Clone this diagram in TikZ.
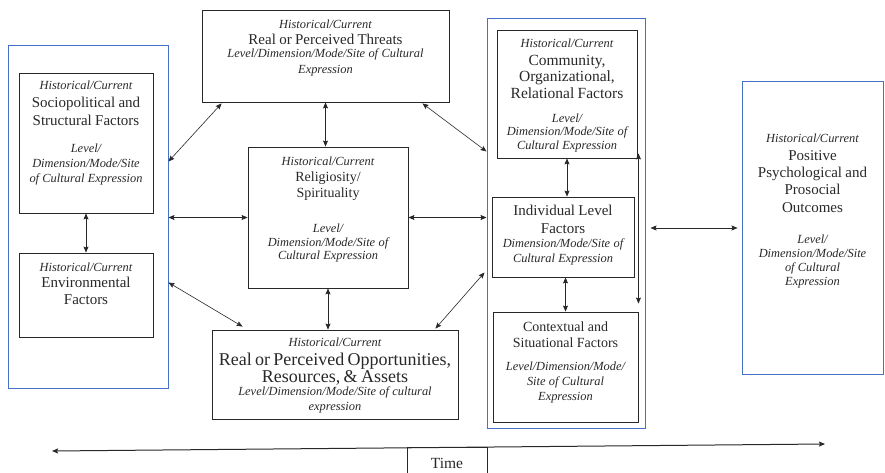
\documentclass[tikz,border=0pt]{standalone}
\usepackage{fontspec}
\setmainfont{Liberation Serif}
\usetikzlibrary{arrows.meta,calc}

\definecolor{frameblue}{RGB}{68,114,196}
\definecolor{inkgray}{RGB}{40,40,40}

% italic sub-heading lines and upright title lines
\newcommand\hcit[2][14.7]{{\fontsize{12.4}{#1}\selectfont\itshape #2\par}}
\newcommand\mtxt[3]{{\fontsize{#1}{#2}\selectfont #3\par}}

\tikzset{
  box/.style={draw=inkgray, line width=0.9pt, inner sep=0pt, minimum width=#1},
  bluebox/.style={draw=frameblue, line width=1pt, inner sep=0pt, minimum width=#1},
  lbl/.style={anchor=north, inner sep=0pt, align=center, text width=#1, text=inkgray},
  conn/.style={{Stealth[length=6pt,width=5pt,inset=1pt]}-{Stealth[length=6pt,width=5pt,inset=1pt]},
               draw=inkgray, line width=0.6pt},
}

\begin{document}
\begin{tikzpicture}[x=1pt, y=-1pt]
\useasboundingbox (0,0) rectangle (885,473);

% outer groups
\node[bluebox=160pt, minimum height=342pt] (leftblue)  at (88,217)    {};
\node[bluebox=158pt, minimum height=409pt] (rightblue) at (566,223.5) {};

% boxes
\node[box=134pt, minimum height=140pt] (socio)   at (86,143)    {};
\node[box=134pt, minimum height=84pt]  (env)     at (86,295)    {};
\node[box=247pt, minimum height=92pt]  (threat)  at (325.5,56)  {};
\node[box=160pt, minimum height=141pt] (relig)   at (328,217.5) {};
\node[box=246pt, minimum height=89pt]  (opp)     at (335,374.5) {};
\node[box=140pt, minimum height=128pt] (comm)    at (567,94)    {};
\node[box=142pt, minimum height=80pt]  (indiv)   at (563,237)   {};
\node[box=145pt, minimum height=110pt] (context) at (565.5,367) {};
\node[bluebox=141pt, minimum height=292pt] (outc) at (812.5,228) {};
\node[box=80pt, minimum height=34pt]   (timebox) at (447,464)   {};

% box texts
\node[lbl=134pt] (socio-t) at ($(socio.north)+(0,8)$) {%
  \hcit{Historical/Current}
  \mtxt{15}{18}{Sociopolitical and\\Structural Factors}
  \vspace{12pt}
  \hcit[15]{Level/\\Dimension/Mode/Site\\of Cultural Expression}};

\node[lbl=134pt] (env-t) at ($(env.north)+(0,10)$) {%
  \hcit{Historical/Current}
  \mtxt{15}{16.5}{Environmental\\Factors}};

\node[lbl=247pt] (threat-t) at ($(threat.north)+(0,10)$) {%
  \hcit{Historical/Current}
  \mtxt{15}{16}{Real or Perceived Threats}
  \vspace{-3pt}
  \hcit[16]{Level/Dimension/Mode/Site of Cultural\\Expression}};

\node[lbl=160pt] (relig-t) at ($(relig.north)+(0,10)$) {%
  \hcit{Historical/Current}
  \mtxt{14}{16}{Religiosity/\\Spirituality}
  \vspace{22pt}
  \hcit[13.5]{Level/\\Dimension/Mode/Site of\\Cultural Expression}};

\node[lbl=246pt] (opp-t) at ($(opp.north)+(0,8)$) {%
  \hcit{Historical/Current}
  \vspace{1.8pt}
  \mtxt{18}{17}{Real or Perceived Opportunities,\\Resources, \& Assets}
  \vspace{-1.8pt}
  \hcit[15]{Level/Dimension/Mode/Site of cultural\\expression}};

\node[lbl=140pt] (comm-t) at ($(comm.north)+(0,9)$) {%
  \hcit{Historical/Current}
  \vspace{1.5pt}
  \mtxt{15.5}{16.5}{Community,\\Organizational,\\Relational Factors}
  \vspace{10.5pt}
  \hcit[13.5]{Level/\\Dimension/Mode/Site of\\Cultural Expression}};

\node[lbl=142pt] (indiv-t) at ($(indiv.north)+(0,8)$) {%
  \mtxt{15}{18}{Individual Level\\Factors}
  \vspace{-1pt}
  \hcit[15]{Dimension/Mode/Site of\\Cultural Expression}};

\node[lbl=145pt] (context-t) at ($(context.north)+(0,10)$) {%
  \mtxt{14}{16}{Contextual and\\Situational Factors}
  \vspace{8.5pt}
  \hcit[15]{Level/Dimension/Mode/\\Site of Cultural\\Expression}};

\node[lbl=141pt] (outc-t) at ($(outc.north)+(0,52)$) {%
  \hcit{Historical/Current}
  \vspace{0.6pt}
  \mtxt{15}{17.3}{Positive\\Psychological and\\Prosocial\\Outcomes}
  \vspace{17.7pt}
  \hcit[14]{Level/\\Dimension/Mode/Site\\of Cultural\\Expression}};

\node[inner sep=0pt, text=inkgray, font=\fontsize{15.5}{18}\selectfont] (time-t) at (447,463) {Time};

% connectors
\draw[conn] ($(threat.south west)+(20,1)$) -- ($(leftblue.north east)+(0,116)$);
\draw[conn] (threat.south) -- (threat.south |- relig.north);
\draw[conn] ($(threat.south east)+(-27,1)$) -- ($(rightblue.north west)+(0,133)$);
\draw[conn] (leftblue.east |- relig.west) -- (relig.west);
\draw[conn] (relig.east) -- (rightblue.west |- relig.east);
\draw[conn] ($(leftblue.north east)+(0,237)$) -- ($(opp.north west)+(31,-3)$);
\draw[conn] (relig.south) -- (relig.south |- opp.north);
\draw[conn] ($(rightblue.north west)+(-2,254)$) -- ($(opp.north east)+(-23,-1)$);
\draw[conn] (socio.south) -- (env.north);
\draw[conn] (comm.south) -- (comm.south |- indiv.north);
\draw[conn] (context.north |- indiv.south) -- (context.north);
\draw[conn] ($(comm.south east)+(1,-5)$) -- ($(context.north east)+(0,-8)$);
\draw[conn] ($(rightblue.east |- outc.west)+(5,0)$) -- ($(outc.west)+(-4,0)$);

% time axis
\coordinate (tleft)  at (52,451);
\coordinate (tright) at (825,444);
\draw[conn, line width=1pt] (tleft) -- (tright);
\end{tikzpicture}
\end{document}
